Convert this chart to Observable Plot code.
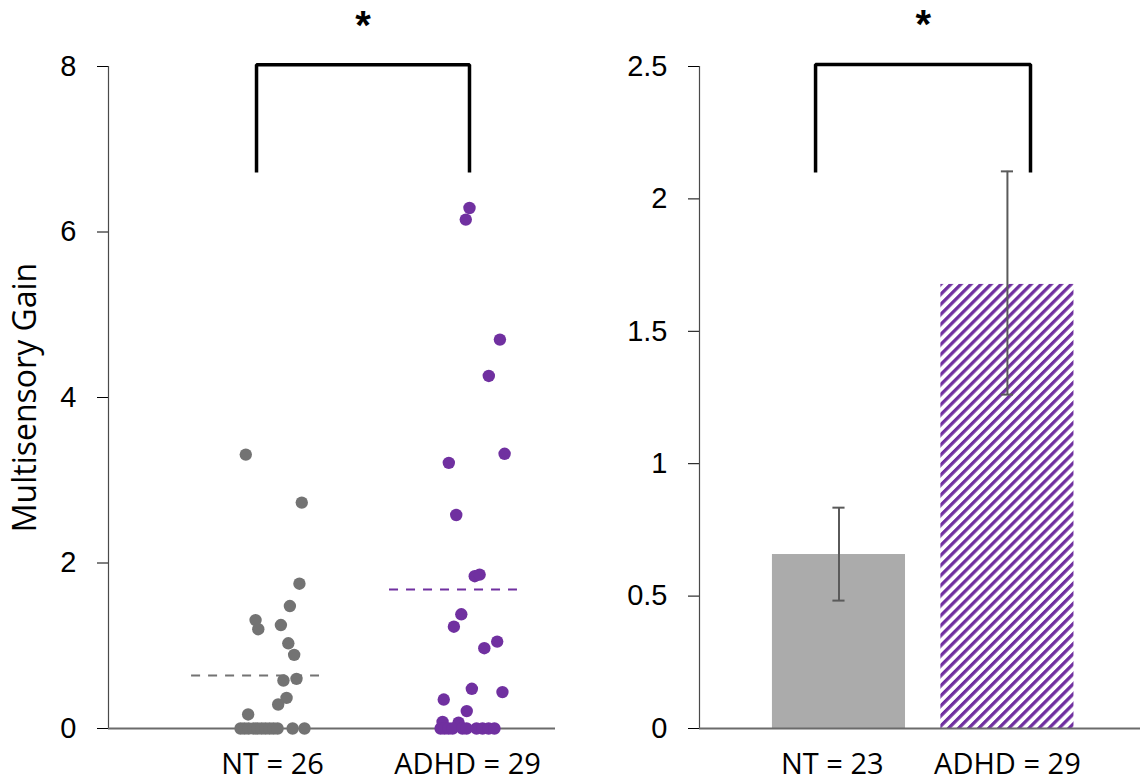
<!DOCTYPE html>
<html><head><meta charset="utf-8">
<script src="https://cdn.jsdelivr.net/npm/d3@7"></script>
<script src="https://cdn.jsdelivr.net/npm/@observablehq/plot@0.6"></script>
<style>
body{margin:0;background:#fff;}
#wrap{position:relative;width:1145px;height:782px;overflow:hidden;background:#fff}
#left{position:absolute;left:0;top:0}
#right{position:absolute;left:580px;top:0}
svg{overflow:visible}
</style></head><body><div id="wrap"><div id="left"></div><div id="right"></div></div>
<script>
// ---------- data ----------
const groupPos = [1, 2];
const leftLabels = ["NT = 26", "ADHD = 29"];
const rightLabels = ["NT = 23", "ADHD = 29"];
const rightLabelPos = [0.96, 2.0];
const yTitle = "Multisensory Gain";

// individual multisensory gain values (left panel), with horizontal jitter (category units)
const ntValues = [3.31, 2.73, 1.75, 1.48, 1.31, 1.20, 1.25, 1.03, 0.89, 0.58, 0.60, 0.37, 0.29, 0.17,
                  0, 0, 0, 0, 0, 0, 0, 0, 0, 0, 0, 0];
const ntJitter = [-0.137, 0.150, 0.138, 0.089, -0.087, -0.073, 0.043, 0.081, 0.111, 0.056, 0.123, 0.072, 0.029, -0.125,
                  -0.164, -0.144, -0.123, -0.097, -0.077, -0.056, -0.036, -0.015, 0.005, 0.026, 0.103, 0.164];
const adhdValues = [6.29, 6.15, 4.70, 4.26, 3.32, 3.21, 2.58, 1.84, 1.86, 1.38, 1.23, 1.05, 0.97, 0.48, 0.44, 0.35, 0.21, 0.08, 0.07,
                    0, 0, 0, 0, 0, 0, 0, 0, 0, 0];
const adhdJitter = [0.010, -0.009, 0.166, 0.109, 0.190, -0.096, -0.058, 0.037, 0.062, -0.032, -0.070, 0.152, 0.086, 0.022, 0.179, -0.122, -0.004, -0.128, -0.046,
                    -0.138, -0.118, -0.097, -0.077, -0.026, -0.005, 0.046, 0.077, 0.108, 0.138];
const scatterMeans = [0.64, 1.68];
const meanStart = [-0.415, -0.40];
const meanEnd = [0.241, 0.256];

// right panel: group means with error bars
const barMeans = [0.657, 1.677];
const errLow = [0.483, 1.261];
const errHigh = [0.834, 2.104];

// significance brackets
const leftBracketX = [0.918, 2.010];
const leftBracketY = [6.72, 8.02];
const leftStarPos = [1.464, 8.49];
const rightBracketX = [0.861, 2.137];
const rightBracketY = [2.10, 2.508];
const rightStarPos = [1.5, 2.655];

const leftTicks = [0, 2, 4, 6, 8];
const rightTicks = [0, 0.5, 1, 1.5, 2, 2.5];

// ---------- styles ----------
const NT_DOT = "#737373";
const PURPLE = "#7030A0";
const NT_BAR = "#ABABAB";
const AXIS_FONT = "'Liberation Sans', Arial, sans-serif";
const LABEL_FONT = "'Open Sans', sans-serif";

const dots = [
  ...ntValues.map((v, i) => ({pos: groupPos[0] + ntJitter[i], v, g: "NT"})),
  ...adhdValues.map((v, i) => ({pos: groupPos[1] + adhdJitter[i], v, g: "ADHD"}))
];
const means = scatterMeans.map((m, i) => ({m, x1: groupPos[i] + meanStart[i], x2: groupPos[i] + meanEnd[i], g: i}));
const bracket = (bx, by) => [
  {x: bx[0], y: by[0]}, {x: bx[0], y: by[1]}, {x: bx[1], y: by[1]}, {x: bx[1], y: by[0]}
];
const leftXDomain = [0.159, 2.451];
const rightXDomain = [0.172, 2.79];

const left = Plot.plot({
  width: 580, height: 782,
  marginLeft: 108, marginRight: 25, marginTop: 66, marginBottom: 54,
  style: {fontFamily: AXIS_FONT, fontSize: "29px", color: "#000", background: "transparent", overflow: "visible"},
  x: {domain: leftXDomain, axis: null},
  y: {domain: [0, 8], ticks: leftTicks, tickSize: 11, tickPadding: 21, tickFormat: d => String(d), label: null},
  marks: [
    Plot.ruleX([leftXDomain[0]], {stroke: "#4a4a4a", strokeWidth: 1.2}),
    Plot.ruleY([0], {stroke: "#6b6b6b", strokeWidth: 2}),
    Plot.ruleY(means, {y: "m", x1: "x1", x2: "x2", stroke: d => d.g === 0 ? NT_DOT : PURPLE, strokeWidth: 2, strokeDasharray: "9,8"}),
    Plot.dot(dots, {x: "pos", y: "v", r: 6.2, fill: d => d.g === "NT" ? NT_DOT : PURPLE, stroke: "none"}),
    Plot.line(bracket(leftBracketX, leftBracketY), {x: "x", y: "y", stroke: "#000", strokeWidth: 3.5, strokeLinejoin: "miter", strokeLinecap: "butt"}),
    Plot.text(["*"], {x: [leftStarPos[0]], y: [leftStarPos[1]], text: d => d, fontSize: 40, fontWeight: "bold", fontFamily: AXIS_FONT, fill: "#000"}),
    Plot.text(groupPos, {x: d => d, text: (d, i) => leftLabels[i], frameAnchor: "bottom", lineAnchor: "top", dy: 25, fontFamily: LABEL_FONT, fontSize: 29, fill: "#000"}),
    Plot.text([yTitle], {text: d => d, frameAnchor: "left", textAnchor: "middle", rotate: -90, dx: -83, fontFamily: LABEL_FONT, fontSize: 32, fill: "#000"})
  ]
});
document.getElementById("left").appendChild(left);

const bars = barMeans.map((m, i) => ({pos: groupPos[i], m, lo: errLow[i], hi: errHigh[i], g: i}));
const right = Plot.plot({
  width: 565, height: 782,
  marginLeft: 119, marginRight: 5, marginTop: 66, marginBottom: 54,
  style: {fontFamily: AXIS_FONT, fontSize: "29px", color: "#000", background: "transparent", overflow: "visible"},
  x: {domain: rightXDomain, axis: null},
  y: {domain: [0, 2.5], ticks: rightTicks, tickSize: 11, tickPadding: 21, tickFormat: d => String(d), label: null},
  marks: [
    Plot.ruleX([rightXDomain[0]], {stroke: "#4a4a4a", strokeWidth: 1.2}),
    Plot.rectY(bars, {x1: d => d.pos - 0.395, x2: d => d.pos + 0.395, y1: 0, y2: "m", fill: d => d.g === 0 ? NT_BAR : "url(#adhdHatch)"}),
    Plot.ruleY([0], {stroke: "#6b6b6b", strokeWidth: 2}),
    Plot.ruleX(bars, {x: "pos", y1: "lo", y2: "hi", stroke: "#5a5a5a", strokeWidth: 2}),
    Plot.ruleY(bars, {y: "hi", x1: d => d.pos - 0.036, x2: d => d.pos + 0.036, stroke: "#5a5a5a", strokeWidth: 2}),
    Plot.ruleY(bars, {y: "lo", x1: d => d.pos - 0.036, x2: d => d.pos + 0.036, stroke: "#5a5a5a", strokeWidth: 2}),
    Plot.line(bracket(rightBracketX, rightBracketY), {x: "x", y: "y", stroke: "#000", strokeWidth: 3.5, strokeLinejoin: "miter", strokeLinecap: "butt"}),
    Plot.text(["*"], {x: [rightStarPos[0]], y: [rightStarPos[1]], text: d => d, fontSize: 40, fontWeight: "bold", fontFamily: AXIS_FONT, fill: "#000"}),
    Plot.text(rightLabelPos, {x: d => d, text: (d, i) => rightLabels[i], frameAnchor: "bottom", lineAnchor: "top", dy: 25, fontFamily: LABEL_FONT, fontSize: 29, fill: "#000"})
  ]
});
d3.select(right).insert("defs", ":first-child").html(
  `<pattern id="adhdHatch" patternUnits="userSpaceOnUse" width="7.1" height="7.1" patternTransform="rotate(45)">
     <rect width="7.1" height="7.1" fill="#fff"/>
     <rect x="0" y="0" width="3.3" height="7.1" fill="${PURPLE}"/>
   </pattern>`);
document.getElementById("right").appendChild(right);
</script>
</body></html>
